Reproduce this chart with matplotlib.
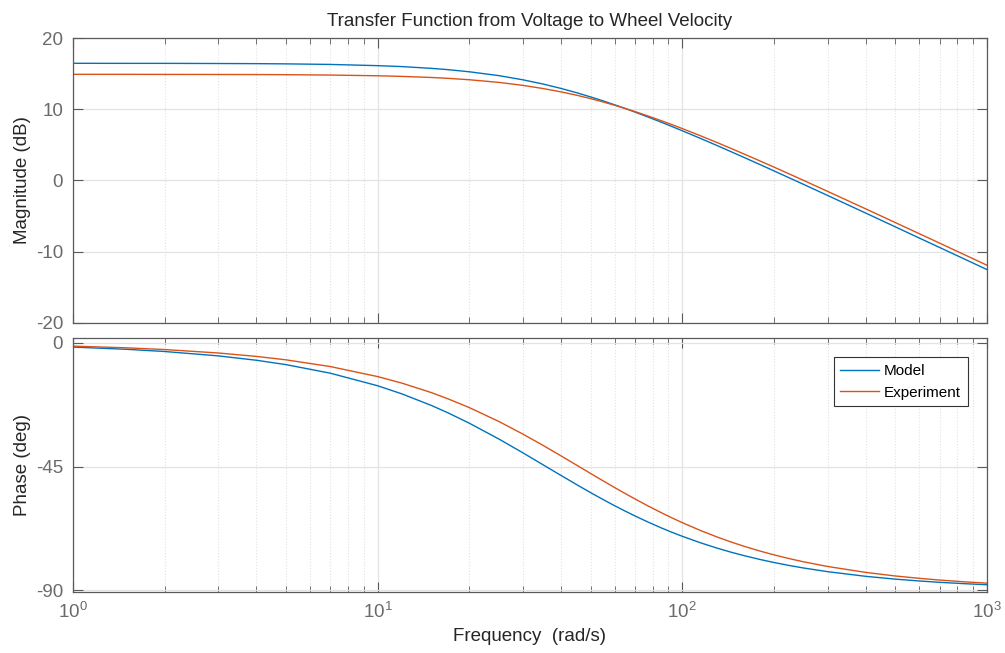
import matplotlib.pyplot as plt
from matplotlib.ticker import LogLocator, NullFormatter

plt.rcParams['font.family'] = ['Liberation Sans', 'DejaVu Sans']
plt.rcParams['mathtext.fontset'] = 'custom'
plt.rcParams['mathtext.rm'] = 'Liberation Sans'
plt.rcParams['axes.unicode_minus'] = False

# values
freq = [1, 1.5, 2, 3, 4, 5, 7, 10, 12, 15, 17, 20, 25, 30, 35, 40, 45, 50, 55, 60,
        65, 70, 77, 85, 92, 100, 115, 130, 145, 160, 180, 200, 225, 250, 300, 400,
        500, 600, 700, 850, 1000]

model_mag = [16.45, 16.44, 16.44, 16.42, 16.40, 16.37, 16.29, 16.12, 15.99, 15.74,
             15.56, 15.26, 14.72, 14.13, 13.53, 12.92, 12.32, 11.73, 11.17, 10.62,
             10.10, 9.60, 8.93, 8.21, 7.62, 6.98, 5.89, 4.91, 4.02, 3.21,
             2.23, 1.35, 0.35, -0.54, -2.10, -4.57, -6.50, -8.08, -9.41, -11.09, -12.50]
exp_mag = [14.90, 14.90, 14.89, 14.88, 14.87, 14.85, 14.80, 14.70, 14.61, 14.46,
           14.34, 14.14, 13.77, 13.35, 12.90, 12.44, 11.97, 11.49, 11.02, 10.56,
           10.11, 9.67, 9.07, 8.42, 7.88, 7.29, 6.26, 5.33, 4.48, 3.69,
           2.74, 1.88, 0.90, 0.02, -1.53, -3.98, -5.90, -7.47, -8.80, -10.48, -11.89]

model_phase = [-1.60, -2.41, -3.21, -4.80, -6.39, -7.97, -11.10, -15.65, -18.59, -22.79,
               -25.47, -29.26, -35.00, -40.04, -44.44, -48.25, -51.57, -54.48, -57.01, -59.25,
               -61.22, -62.98, -65.12, -67.22, -68.80, -70.35, -72.75, -74.64, -76.17, -77.42,
               -78.78, -79.88, -80.98, -81.87, -83.21, -84.90, -85.92, -86.59, -87.08, -87.59, -87.96]
exp_phase = [-1.25, -1.88, -2.50, -3.75, -4.99, -6.23, -8.69, -12.32, -14.68, -18.13,
             -20.38, -23.59, -28.63, -33.23, -37.39, -41.13, -44.50, -47.52, -50.22, -52.65,
             -54.83, -56.80, -59.26, -61.68, -63.54, -65.39, -68.29, -70.59, -72.47, -74.03,
             -75.72, -77.10, -78.49, -79.62, -81.32, -83.47, -84.77, -85.63, -86.26, -86.92, -87.38]

blue = '#0072BD'
orange = '#D95319'
axcol = '#5a5a5a'
labcol = '#6a6a6a'
txtcol = '#262626'

fig = plt.figure(figsize=(10.05, 6.53), dpi=100)
ax1 = fig.add_axes([0.0726, 0.5054, 0.9094, 0.4364])
ax2 = fig.add_axes([0.0726, 0.0934, 0.9094, 0.3890])


def style(ax):
    ax.set_xscale('log')
    ax.set_xlim(1, 1000)
    ax.xaxis.set_major_locator(LogLocator(base=10))
    ax.xaxis.set_minor_locator(LogLocator(base=10, subs=range(2, 10)))
    ax.xaxis.set_minor_formatter(NullFormatter())
    ax.grid(True, which='major', color='#e3e3e3', linewidth=0.9)
    ax.grid(True, which='minor', axis='x', color='#e2e2e2', linestyle=':', linewidth=0.8)
    ax.set_axisbelow(True)
    ax.tick_params(which='both', direction='in', top=True, right=True,
                   color=axcol, labelcolor=labcol, labelsize=13.5, length=7, pad=7)
    ax.tick_params(which='minor', length=4)
    for s in ax.spines.values():
        s.set_color(axcol)
        s.set_linewidth(0.9)
    ax.yaxis.set_label_coords(-0.0455, 0.5)


ax1.plot(freq, model_mag, color=blue, linewidth=1.0, label='Model')
ax1.plot(freq, exp_mag, color=orange, linewidth=1.0, label='Experiment')
style(ax1)
ax1.set_ylim(-20, 20)
ax1.set_yticks([-20, -10, 0, 10, 20])
ax1.tick_params(labelbottom=False)
ax1.set_ylabel('Magnitude (dB)', fontsize=13.5, color=txtcol)
ax1.set_title('Transfer Function from Voltage to Wheel Velocity', fontsize=13.5,
              pad=9, color=txtcol)

ax2.plot(freq, model_phase, color=blue, linewidth=1.0, label='Model')
ax2.plot(freq, exp_phase, color=orange, linewidth=1.0, label='Experiment')
style(ax2)
ax2.set_ylim(-90.6, 1.7)
ax2.set_yticks([-90, -45, 0])
ax2.set_ylabel('Phase (deg)', fontsize=13.5, color=txtcol)
ax2.set_xlabel('Frequency  (rad/s)', fontsize=13.5, color=txtcol)
ax2.xaxis.set_label_coords(0.5, -0.142)

leg = ax2.legend(loc='upper right', fontsize=11, fancybox=False, framealpha=1,
                 edgecolor='#333333', borderpad=0.45, handlelength=2.5,
                 handletextpad=0.35, borderaxespad=1.25)
leg.get_frame().set_linewidth(0.8)

fig.savefig('out.png', dpi=100)
